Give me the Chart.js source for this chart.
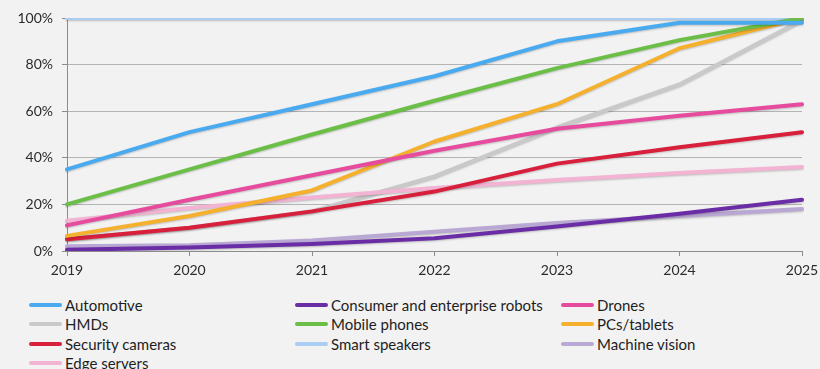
<!DOCTYPE html>
<html>
<head>
<meta charset="utf-8">
<script src="https://cdn.jsdelivr.net/npm/chart.js@4.4.1/dist/chart.umd.min.js"></script>
<style>
  html, body { margin: 0; padding: 0; background: #f2f2f2; }
  body { width: 820px; height: 369px; overflow: hidden; position: relative; font-family: Lato, "Liberation Sans", sans-serif; }
  #wrap { position: absolute; left: 0; top: 0; width: 820px; height: 288px; }
  #legend { position: absolute; left: 29px; top: 295px; width: 800px; display: grid; grid-template-columns: 266px 266px 266px; grid-auto-rows: 19.5px; }
  .item { display: flex; align-items: center; font-size: 15px; color: #1e1e1e; white-space: nowrap; }
  .swatch { width: 33px; height: 4px; border-radius: 2px; margin-right: 3px; flex: none; }
</style>
</head>
<body>
<div id="wrap"><canvas id="chart"></canvas></div>
<div id="legend"></div>
<script>
// années et séries (en %)
const years = ["2019", "2020", "2021", "2022", "2023", "2024", "2025"]
const yTicks = [0, 20, 40, 60, 80, 100]

const seriesNames = [
  "Automotive", "Consumer and enterprise robots", "Drones",
  "HMDs", "Mobile phones", "PCs/tablets",
  "Security cameras", "Smart speakers", "Machine vision",
  "Edge servers"
]

const automotive = [35, 51, 63, 75, 90, 98, 98]
const robots = [0.5, 1.5, 3, 5.5, 10.5, 16, 22]
const drones = [11, 22, 32.5, 43, 52.5, 58, 63]
const hmds = [5, 10, 17, 32, 53, 71.5, 99]
const mobilePhones = [20, 35, 50, 64.5, 78.5, 90.5, 100]
const pcsTablets = [6.5, 15, 26, 47, 63, 87, 100]
const securityCameras = [5, 10, 17, 25.5, 37.5, 44.5, 51]
const smartSpeakers = [100, 100, 100, 100, 100, 100, 100]
const machineVision = [2, 2.5, 4.5, 8.3, 12, 15, 18]
const edgeServers = [13, 18.5, 23, 27, 30.5, 33.5, 36]

const seriesValues = [
  automotive, robots, drones, hmds, mobilePhones, pcsTablets,
  securityCameras, smartSpeakers, machineVision, edgeServers
]
const seriesColors = [
  "#49aaf0", "#6a2da6", "#e74b9d", "#c9c9c9", "#6bbf47", "#f5b02e",
  "#d81f3b", "#abcdf3", "#b9a7d4", "#f3b3d2"
]

const datasets = seriesNames.map((name, i) => ({
  label: name,
  data: seriesValues[i],
  borderColor: seriesColors[i],
  backgroundColor: seriesColors[i],
  borderWidth: 4,
  pointRadius: 0,
  tension: 0,
  fill: false,
  borderCapStyle: "round",
  borderJoinStyle: "round",
  // HMDs passe sous les autres courbes
  order: name === "HMDs" ? 1 : 0,
}))

// ombre légère sous les courbes
const lineShadow = {
  id: "lineShadow",
  beforeDatasetsDraw(chart) {
    const ctx = chart.ctx
    ctx.save()
    ctx.shadowColor = "rgba(0, 0, 0, 0.22)"
    ctx.shadowBlur = 2
    ctx.shadowOffsetY = 1
  },
  afterDatasetsDraw(chart) {
    chart.ctx.restore()
  },
}

const axisColor = "#8c8c8c"
const font = { family: "Lato, 'Liberation Sans', sans-serif", size: 14 }

new Chart(document.getElementById("chart").getContext("2d"), {
  type: "line",
  data: { labels: years, datasets: datasets },
  plugins: [lineShadow],
  options: {
    responsive: true,
    maintainAspectRatio: false,
    animation: false,
    layout: { padding: { top: 18, right: 18, left: 0, bottom: 0 } },
    plugins: { legend: { display: false }, tooltip: { enabled: false } },
    scales: {
      x: {
        type: "category",
        offset: false,
        grid: { drawOnChartArea: false, drawTicks: true, tickLength: 5, color: axisColor },
        border: { color: axisColor },
        ticks: { color: "#2b2b2b", font: font, padding: 6, maxRotation: 0, autoSkip: false },
        afterFit: (scale) => {
          scale.height = 288 - 251
          scale.paddingLeft = 0
          scale.paddingRight = 0
        },
      },
      y: {
        min: 0,
        max: 100,
        afterBuildTicks: (scale) => { scale.ticks = yTicks.map(v => ({ value: v })) },
        grid: { color: "#b4b4b4", tickLength: 5, tickColor: axisColor },
        border: { color: axisColor },
        ticks: { color: "#2b2b2b", font: font, padding: 9, callback: (v) => v + "%" },
        afterFit: (scale) => {
          scale.width = 67
          scale.paddingTop = 0
          scale.paddingBottom = 0
        },
      },
    },
  },
})

// légende en trois colonnes
const legend = document.getElementById("legend")
seriesNames.forEach((name, i) => {
  const item = document.createElement("div")
  item.className = "item"
  item.innerHTML = `<span class="swatch" style="background:${seriesColors[i]}"></span>${name}`
  legend.appendChild(item)
})
</script>
</body>
</html>
